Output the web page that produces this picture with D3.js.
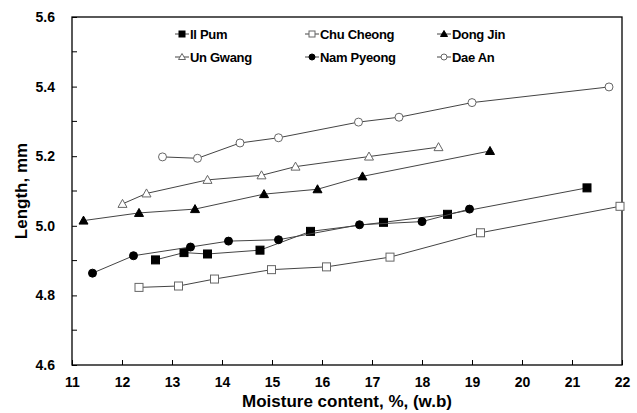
<!DOCTYPE html>
<html><head><meta charset="utf-8">
<script src="https://cdn.jsdelivr.net/npm/d3@7"></script>
<style>body{margin:0;background:#fff}svg{display:block}text{font-family:"Liberation Sans",Arial,sans-serif;font-weight:bold;fill:#000}</style>
</head><body><svg id="c" width="637" height="413"></svg>
<script>
const seriesNames = ["Il Pum","Chu Cheong","Dong Jin","Un Gwang","Nam Pyeong","Dae An"];
const ilPumX = [12.67,13.24,13.71,14.76,15.77,17.23,18.51,21.30];
const ilPumY = [4.902,4.923,4.919,4.930,4.984,5.010,5.033,5.109];
const chuCheongX = [12.34,13.13,13.85,14.99,16.09,17.36,19.17,21.96];
const chuCheongY = [4.823,4.827,4.847,4.874,4.882,4.910,4.980,5.056];
const dongJinX = [11.23,12.34,13.46,14.84,15.91,16.81,19.36];
const dongJinY = [5.015,5.037,5.048,5.091,5.105,5.142,5.215];
const unGwangX = [12.01,12.49,13.71,14.79,15.47,16.94,18.33];
const unGwangY = [5.063,5.093,5.132,5.145,5.170,5.199,5.226];
const namPyeongX = [11.41,12.23,13.37,14.13,15.13,16.75,18.00,18.95];
const namPyeongY = [4.864,4.914,4.939,4.956,4.960,5.003,5.012,5.048];
const daeAnX = [12.81,13.51,14.36,15.13,16.73,17.54,19.00,21.74];
const daeAnY = [5.198,5.194,5.238,5.253,5.298,5.312,5.354,5.399];
const xTicks = [11,12,13,14,15,16,17,18,19,20,21,22];
const yTicks = [4.6,4.8,5.0,5.2,5.4,5.6];
const yMinorTicks = [4.7,4.9,5.1,5.3,5.5];

const markerStyles = [
  {shape:"square", fill:"#000", stroke:"#000"},
  {shape:"square", fill:"#fff", stroke:"#666"},
  {shape:"triangle", fill:"#000", stroke:"#000"},
  {shape:"triangle", fill:"#fff", stroke:"#666"},
  {shape:"circle", fill:"#000", stroke:"#000"},
  {shape:"circle", fill:"#fff", stroke:"#666"}
];
const seriesData = [
  [ilPumX, ilPumY],[chuCheongX, chuCheongY],[dongJinX, dongJinY],
  [unGwangX, unGwangY],[namPyeongX, namPyeongY],[daeAnX, daeAnY]
].map(([xs, ys], i) => ({name: seriesNames[i], style: markerStyles[i], pts: xs.map((x, j) => [x, ys[j]])}));

const svg = d3.select("#c");
const L = 72, R = 622, T = 17, B = 365;
const x = d3.scaleLinear().domain([11,22]).range([L,R]);
const y = d3.scaleLinear().domain([4.6,5.6]).range([B,T]);

svg.append("rect").attr("x",L).attr("y",T).attr("width",R-L).attr("height",B-T)
  .attr("fill","none").attr("stroke","#000").attr("stroke-width",1.3);

const gx = svg.append("g").attr("transform",`translate(0,${B})`)
  .call(d3.axisBottom(x).tickValues(xTicks).tickFormat(d3.format("d")).tickSizeInner(-5).tickSizeOuter(0).tickPadding(12));
gx.select(".domain").remove();
gx.selectAll("text").attr("font-size",14).attr("font-family","Liberation Sans, Arial, sans-serif").attr("font-weight","bold");
gx.selectAll("line").attr("stroke","#000");

const gy = svg.append("g").attr("transform",`translate(${L},0)`)
  .call(d3.axisLeft(y).tickValues(yTicks).tickFormat(d3.format(".1f")).tickSizeInner(-5).tickSizeOuter(0).tickPadding(17));
gy.select(".domain").remove();
gy.selectAll("text").attr("font-size",14).attr("font-family","Liberation Sans, Arial, sans-serif").attr("font-weight","bold");
gy.selectAll("line").attr("stroke","#000");
svg.append("g").selectAll("line").data(yMinorTicks).join("line")
  .attr("x1",L).attr("x2",L+5).attr("y1",d=>y(d)).attr("y2",d=>y(d)).attr("stroke","#000");

svg.append("text").attr("x",(L+R)/2).attr("y",407).attr("text-anchor","middle").attr("font-size",17).text("Moisture content, %, (w.b)");
svg.append("text").attr("transform",`translate(27,${(T+B)/2}) rotate(-90)`).attr("text-anchor","middle").attr("font-size",17).text("Length, mm");

function drawMarker(g, st, cx, cy, s){
  const h = s/2;
  if(st.shape==="square"){
    g.append("rect").attr("x",cx-h).attr("y",cy-h).attr("width",s).attr("height",s)
      .attr("fill",st.fill).attr("stroke",st.stroke).attr("stroke-width",1);
  } else if(st.shape==="triangle"){
    g.append("path").attr("d",`M${cx},${cy-h-0.5}L${cx+h+0.5},${cy+h-0.5}L${cx-h-0.5},${cy+h-0.5}Z`)
      .attr("fill",st.fill).attr("stroke",st.stroke).attr("stroke-width",1);
  } else {
    g.append("circle").attr("cx",cx).attr("cy",cy).attr("r",h)
      .attr("fill",st.fill).attr("stroke",st.stroke).attr("stroke-width",1);
  }
}

const line = d3.line().x(d=>x(d[0])).y(d=>y(d[1]));
seriesData.forEach(s => {
  const g = svg.append("g");
  g.append("path").attr("d",line(s.pts)).attr("fill","none").attr("stroke","#444").attr("stroke-width",1);
  s.pts.forEach(p => drawMarker(g, s.style, x(p[0]), y(p[1]), 8));
});

const legX = [182,312,444], legY = [34,57];
seriesData.forEach((s,i) => {
  const lx = legX[i%3], ly = legY[Math.floor(i/3)];
  const g = svg.append("g");
  g.append("line").attr("x1",lx-7).attr("x2",lx+7).attr("y1",ly).attr("y2",ly).attr("stroke","#444");
  drawMarker(g, s.style, lx, ly, 6);
  g.append("text").attr("x",lx+8).attr("y",ly+4.5).attr("font-size",13).attr("letter-spacing",-0.3).text(s.name);
});
</script></body></html>
